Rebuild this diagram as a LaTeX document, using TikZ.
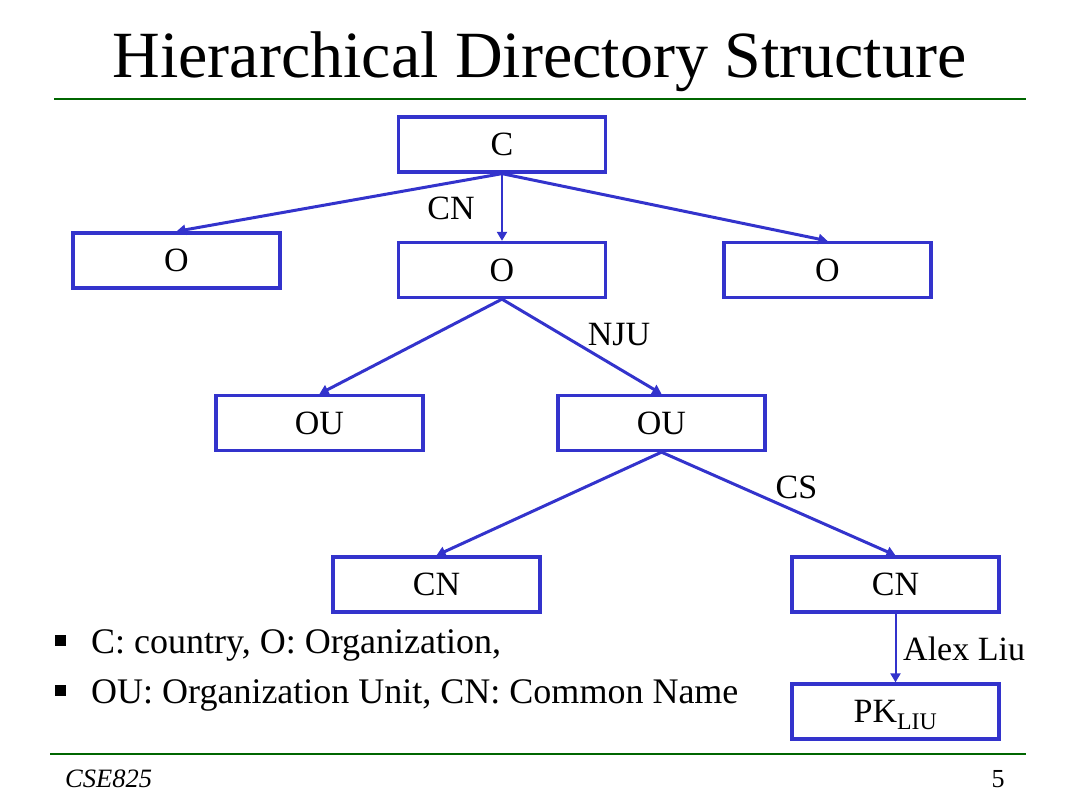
\documentclass[tikz,border=0pt]{standalone}
\usepackage{fontspec}
\setmainfont{Liberation Serif}
\usetikzlibrary{arrows.meta}
\definecolor{boxblue}{RGB}{51,51,204}
\definecolor{rulegreen}{RGB}{0,102,0}
\def\bodyfont{\fontsize{36}{40}\selectfont}
\tikzset{
	dirbox/.style={draw=boxblue, line width=3.3pt, minimum width=207pt, minimum height=55pt, inner sep=0pt, font=\fontsize{34}{38}\selectfont},
	link/.style={draw=boxblue, line width=3pt, -{Triangle[length=9pt,width=10pt]}},
	thinlink/.style={link, line width=2pt},
	edgelbl/.style={anchor=base, inner sep=0pt, font=\fontsize{34}{38}\selectfont},
	greenrule/.style={draw=rulegreen, line width=2.5pt},
	keybullet/.style={fill=black, minimum size=11pt, inner sep=0pt},
}

\begin{document}
\begin{tikzpicture}[x=1pt, y=-1pt]
			%%%%% START %%%%%
			
			\useasboundingbox (0, 0) rectangle (1080, 810);
			
			\node[anchor=base, inner sep=0pt, font=\fontsize{66}{70}\selectfont] (title) at (539.5, 78) {Hierarchical Directory Structure};
			\draw[greenrule] (54, 99) -- (1026, 99);
			
			\node[dirbox] (c) at (502, 144.5) {C};
			
			\node[dirbox] (oleft) at (176.5, 260.5) {O};
			\node[dirbox] (omid) at (502, 270) {O};
			\node[dirbox] (oright) at (827.5, 270) {O};
			
			\node[dirbox] (ouleft) at (319.5, 423) {OU};
			\node[dirbox] (ouright) at (661.5, 423) {OU};
			
			\node[dirbox] (cnleft) at (436.5, 584.5) {CN};
			\node[dirbox] (cnright) at (895.5, 584.5) {CN};
			
			\node[dirbox, text depth=0pt] (pk) at (895.5, 711.5) {PK\textsubscript{LIU}};
			
			\draw[link] (c.south) -- (oleft.north);
			\draw[thinlink] (c.south) -- (omid.north);
			\draw[link] (c.south) -- (oright.north);
			\node[edgelbl] (lblcn) at (451, 220) {CN};
			
			\draw[link] (omid.south) -- (ouleft.north);
			\draw[link] (omid.south) -- (ouright.north);
			\node[edgelbl] (lblnju) at (619, 346) {NJU};
			
			\draw[link] (ouright.south) -- (cnleft.north);
			\draw[link] (ouright.south) -- (cnright.north);
			\node[edgelbl] (lblcs) at (796.5, 498) {CS};
			
			\draw[thinlink] (cnright.south) -- (pk.north);
			\node[edgelbl, anchor=base west] (lblalex) at (903, 660) {Alex Liu};
			
			\node[keybullet] (bulleta) at (60, 640) {};
			\node[anchor=base west, inner sep=0pt, font=\bodyfont] (keya) at (91, 653) {C: country, O: Organization,};
			\node[keybullet] (bulletb) at (60, 690) {};
			\node[anchor=base west, inner sep=0pt, font=\bodyfont] (keyb) at (91, 703) {OU: Organization Unit, CN: Common Name};
			
			\draw[greenrule] (50, 754) -- (1026, 754);
			\node[anchor=base west, inner sep=0pt, font=\fontsize{26.5}{30}\selectfont\itshape] (course) at (65, 787) {CSE825};
			\node[anchor=base, inner sep=0pt, font=\fontsize{26}{30}\selectfont] (pagenum) at (998, 787) {5};
			
			%%%%% END %%%%%
		\end{tikzpicture}
\end{document}
